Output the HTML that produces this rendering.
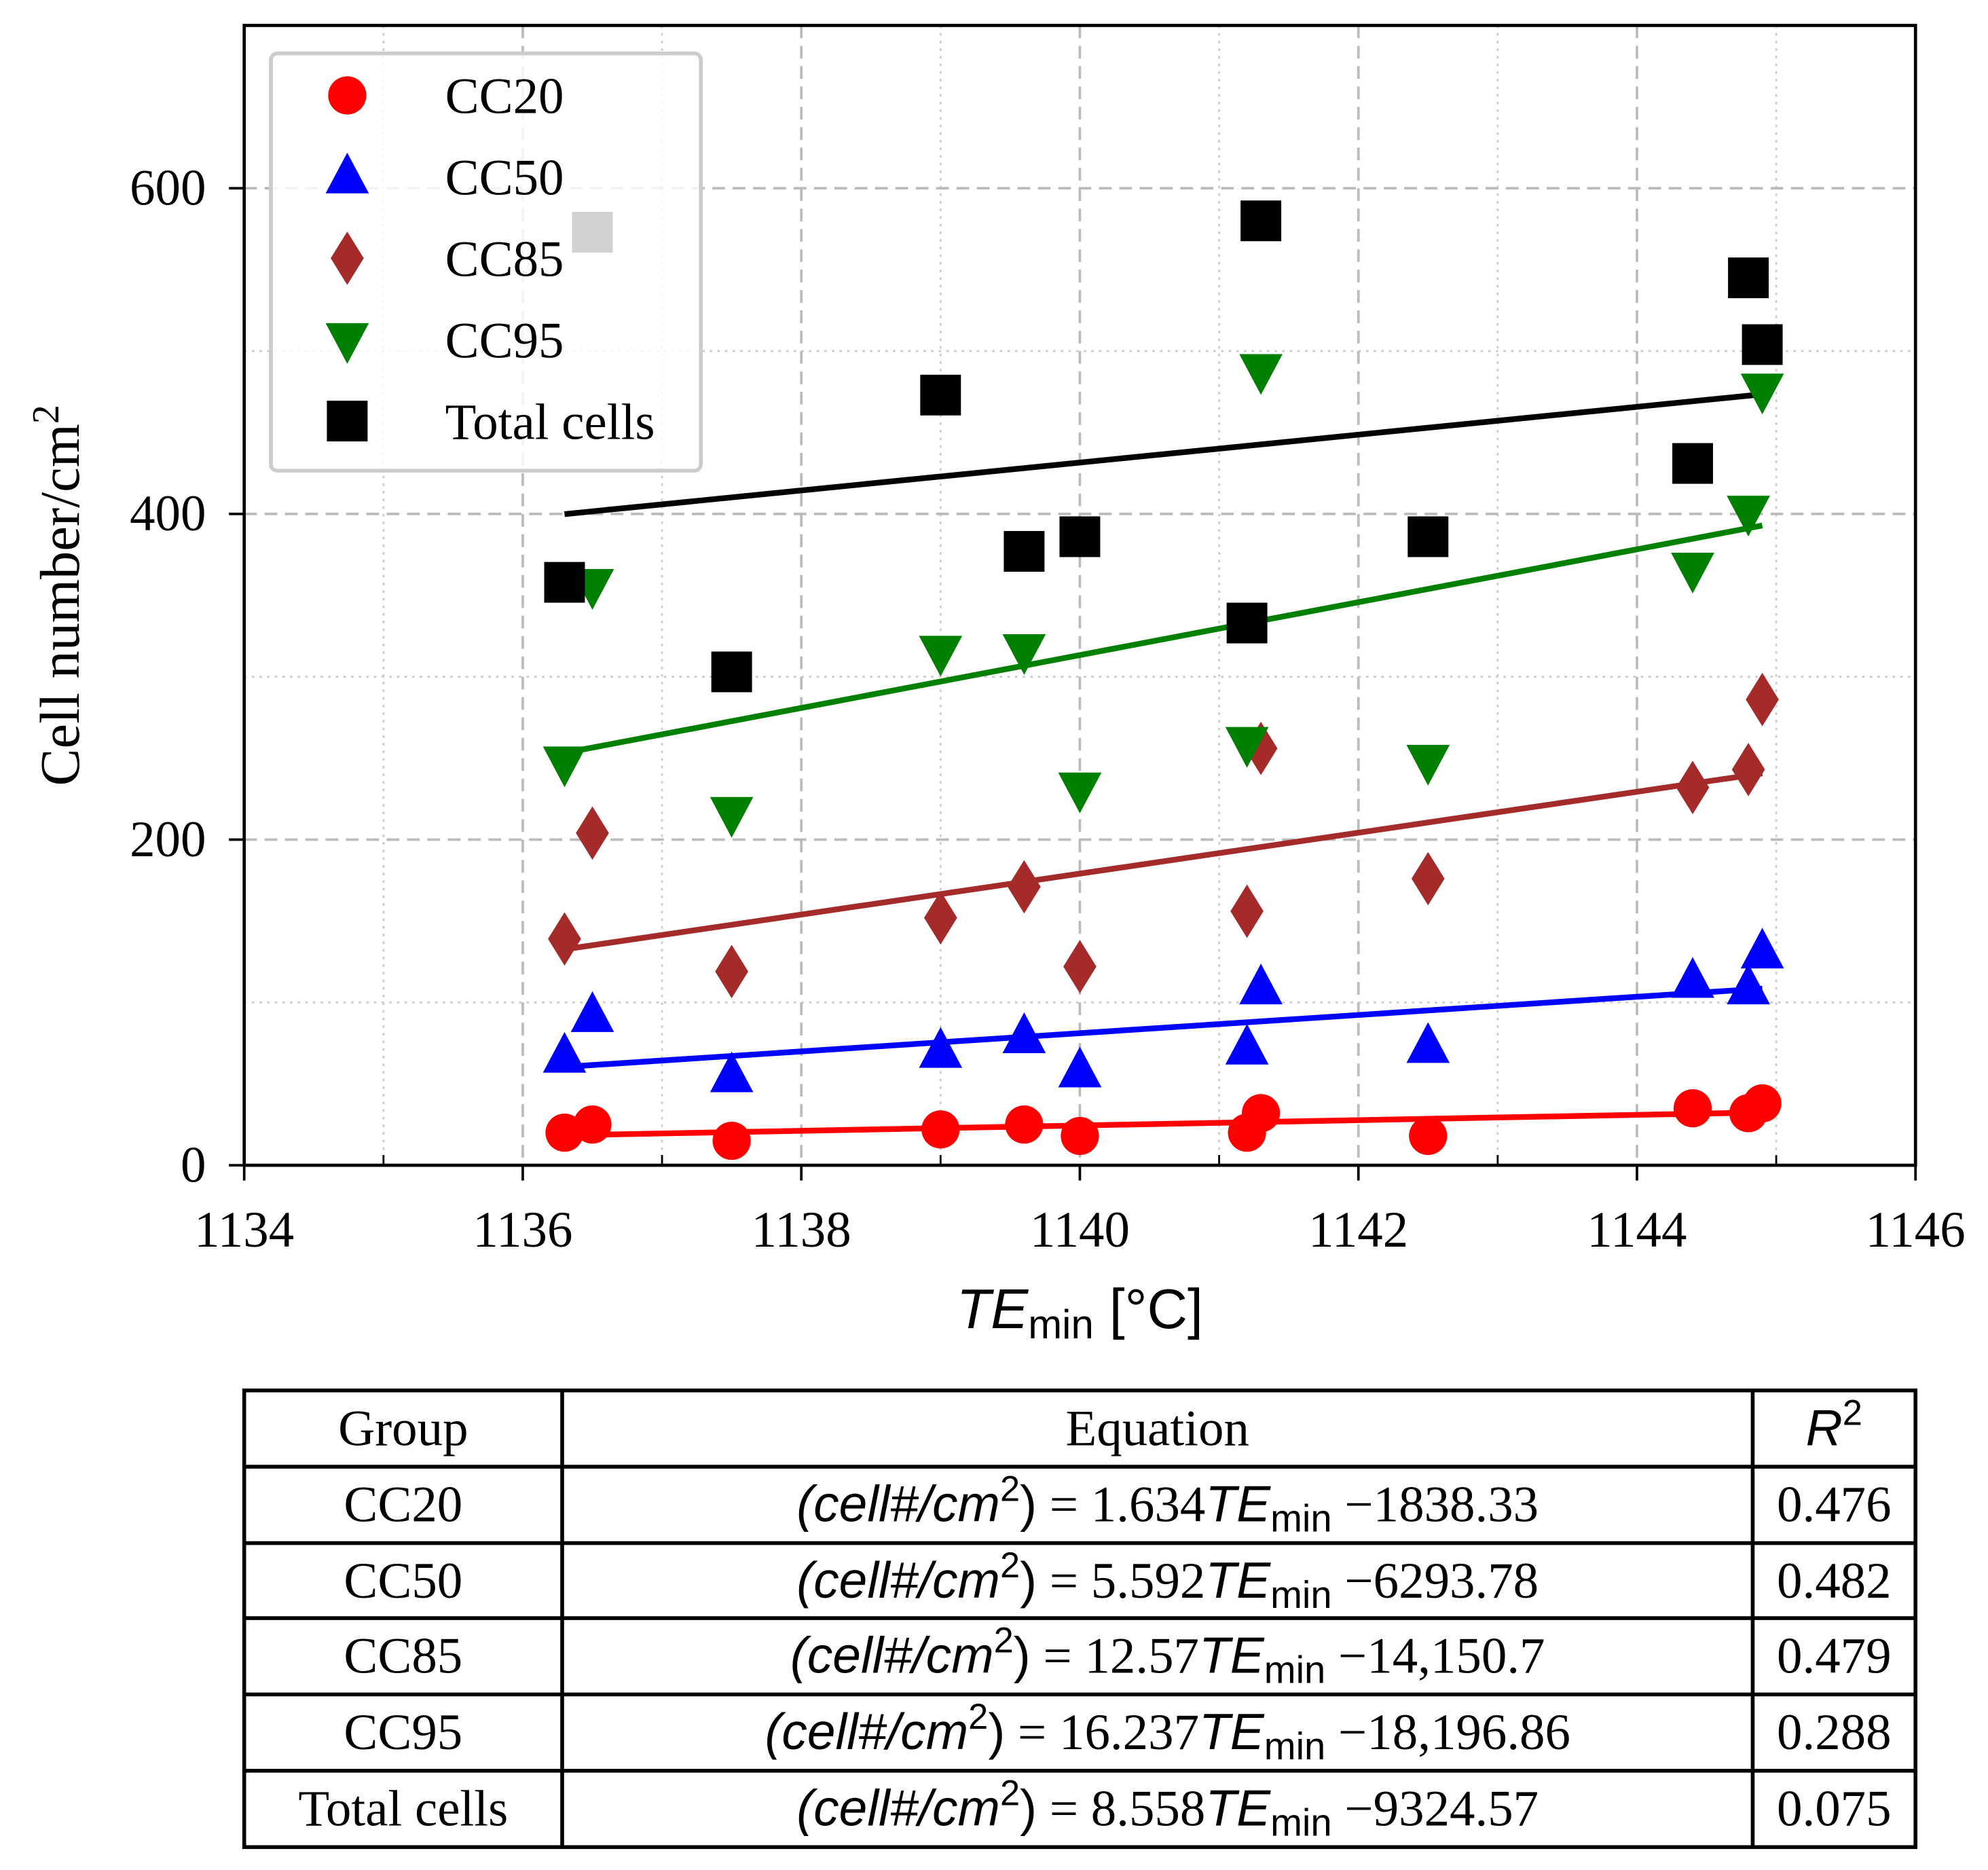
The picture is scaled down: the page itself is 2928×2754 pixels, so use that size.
<!DOCTYPE html>
<html><head><meta charset="utf-8"><style>
html,body{margin:0;padding:0;background:#fff;}
svg{display:block;}
.serif{font-family:"Liberation Serif","DejaVu Serif",serif;}
.sans{font-family:"Liberation Sans","DejaVu Sans",sans-serif;}
</style></head><body>
<svg id="chart" xmlns="http://www.w3.org/2000/svg" width="2928" height="2754" viewBox="0 0 1563 1470" preserveAspectRatio="none">
<rect width="1563" height="1470" fill="#fff"/>
<g id="grid"></g>
<g id="fits"></g>
<g id="marks"></g>
<rect x="192" y="20" width="1314" height="896" fill="none" stroke="#000" stroke-width="2.5"/>
<g id="ticks"></g>
<text class="serif" transform="translate(62,468) rotate(-90)" text-anchor="middle" font-size="44">Cell number/cm<tspan dy="-16" font-size="30">2</tspan></text>
<text class="sans" x="849" y="1044" text-anchor="middle" font-size="44"><tspan font-style="italic">TE</tspan><tspan font-size="32" dy="8">min</tspan><tspan dy="-8"> [°C]</tspan></text>
<g id="legend">
<rect x="213" y="42" width="338" height="328" rx="5" fill="#fff" fill-opacity="0.82" stroke="#ccc" stroke-width="3"/>
</g>
<g id="table"></g>
</svg>
<script>
const xTicks=[1134,1136,1138,1140,1142,1144,1146];
const yTicks=[0,200,400,600];
const xVals=[1136.3,1136.5,1137.5,1139,1139.6,1140,1141.2,1141.3,1142.5,1144.4,1144.8,1144.9];
const cc20=[20,25,15,22,25,18,20,32,18,35,32,38];
const cc50=[67,92,55,70,79,58,72,109,73,113,109,131];
const cc85=[139,204,119,152,171,122,156,256,176,232,243,286];
const cc95=[247,356,216,315,316,231,259,488,248,366,401,476];
const total=[358,573,303,473,377,386,333,580,386,431,545,504];
const slopes=[1.634,5.592,12.57,16.237,8.558];
const intercepts=[-1838.33,-6293.78,-14150.7,-18196.86,-9324.57];
const interceptLabels=["1838.33","6293.78","14,150.7","18,196.86","9324.57"];
const groups=["CC20","CC50","CC85","CC95","Total cells"];
const r2=["0.476","0.482","0.479","0.288","0.075"];
const fitRange=[1136.3,1144.9];

const NS="http://www.w3.org/2000/svg";
const X=v=>192+(v-1134)*(1314/12);
const Y=v=>916-v*1.28;
function mk(tag,attrs,parent){const e=document.createElementNS(NS,tag);for(const k in attrs)e.setAttribute(k,attrs[k]);parent.appendChild(e);return e;}
const grid=document.getElementById('grid'),ticks=document.getElementById('ticks');
for(let v=1135;v<1146;v+=2){const g=mk('line',{x1:X(v),x2:X(v),y1:20,y2:916,stroke:'#ccc','stroke-width':1.5,'stroke-dasharray':'2 4'},grid);
 const t=mk('line',{x1:X(v),x2:X(v),y1:916,y2:908,stroke:'#000','stroke-width':1.5},ticks);}
for(let v=100;v<700;v+=200){const g=mk('line',{x1:192,x2:1506,y1:Y(v),y2:Y(v),stroke:'#ccc','stroke-width':1.5,'stroke-dasharray':'2 4'},grid);}
xTicks.forEach(v=>{if(v>1134&&v<1146){const g=mk('line',{x1:X(v),x2:X(v),y1:20,y2:916,stroke:'#bbb','stroke-width':2,'stroke-dasharray':'10 6'},grid);}
 const t=mk('line',{x1:X(v),x2:X(v),y1:916,y2:928,stroke:'#000','stroke-width':2},ticks);
 const l=mk('text',{x:X(v),y:980,'text-anchor':'middle','font-size':40,class:'serif'},ticks);l.textContent=v;});
yTicks.forEach(v=>{if(v>0){const g=mk('line',{x1:192,x2:1506,y1:Y(v),y2:Y(v),stroke:'#bbb','stroke-width':2,'stroke-dasharray':'10 6'},grid);}
 const t=mk('line',{x1:180,x2:192,y1:Y(v),y2:Y(v),stroke:'#000','stroke-width':2},ticks);
 const l=mk('text',{x:162,y:Y(v)+13,'text-anchor':'end','font-size':40,class:'serif'},ticks);l.textContent=v;});

const colors=['#ff0000','#0000ff','#a52a2a','#008000','#000000'];
const fits=document.getElementById('fits'),marks=document.getElementById('marks');
slopes.forEach((s,i)=>{const f=mk('line',{x1:X(fitRange[0]),y1:Y(s*fitRange[0]+intercepts[i]),x2:X(fitRange[1]),y2:Y(s*fitRange[1]+intercepts[i]),stroke:colors[i],'stroke-width':4.5},fits);});
function marker(type,cx,cy,color,parent){
 if(type===0)return mk('circle',{cx,cy,r:15,fill:color},parent);
 if(type===1)return mk('polygon',{points:`${cx},${cy-19} ${cx+17},${cy+13} ${cx-17},${cy+13}`,fill:color},parent);
 if(type===2)return mk('polygon',{points:`${cx},${cy-21} ${cx+13},${cy} ${cx},${cy+21} ${cx-13},${cy}`,fill:color},parent);
 if(type===3)return mk('polygon',{points:`${cx-17},${cy-13} ${cx+17},${cy-13} ${cx},${cy+19}`,fill:color},parent);
 return mk('rect',{x:cx-16,y:cy-16,width:32,height:32,fill:color},parent);
}
[cc20,cc50,cc85,cc95,total].forEach((arr,i)=>{arr.forEach((v,j)=>{const m=marker(i,X(xVals[j]),Y(v),colors[i],marks);});});

const leg=document.getElementById('legend');
groups.forEach((g,i)=>{const cy=75+i*64;const m=marker(i,273,cy,colors[i],leg);
 const t=mk('text',{x:350,y:cy+14,'font-size':40,class:'serif'},leg);t.textContent=g;});

const tb=document.getElementById('table');
const rowsY=[1093,1153,1213,1272,1332,1392,1452];
mk('rect',{x:192,y:1093,width:1314,height:359,fill:'none',stroke:'#000','stroke-width':3},tb);
[442,1378].forEach(x=>mk('line',{x1:x,x2:x,y1:1093,y2:1452,stroke:'#000','stroke-width':3},tb));
rowsY.slice(1,-1).forEach(y=>mk('line',{x1:192,x2:1506,y1:y,y2:y,stroke:'#000','stroke-width':3},tb));
function cellText(x,y,html,cls,name,fs){const t=mk('text',{x,y,'text-anchor':'middle','font-size':fs||40,class:cls},tb);t.innerHTML=html;return t;}
cellText(317,1136,'Group','serif','table-header-group');
cellText(910,1136,'Equation','serif','table-header-equation');
cellText(1442,1136,'<tspan class="sans" font-style="italic">R</tspan><tspan dy="-16" font-size="28">2</tspan>','sans','table-header-r2');
groups.forEach((g,i)=>{const y=rowsY[i+1]+43;
 cellText(317,y,g,'serif','table-group-cell');
 cellText(918,y,`<tspan class="sans" font-style="italic">(cell#/cm</tspan><tspan class="sans" dy="-16" font-size="28">2</tspan><tspan class="sans" dy="16">)</tspan> = ${slopes[i]}<tspan class="sans" font-style="italic">TE</tspan><tspan class="sans" dy="8" font-size="30">min</tspan><tspan dy="-8"> −${interceptLabels[i]}</tspan>`,'serif','table-equation-cell',40);
 cellText(1442,y,r2[i],'serif','table-r2-cell');});
</script>
</body></html>
